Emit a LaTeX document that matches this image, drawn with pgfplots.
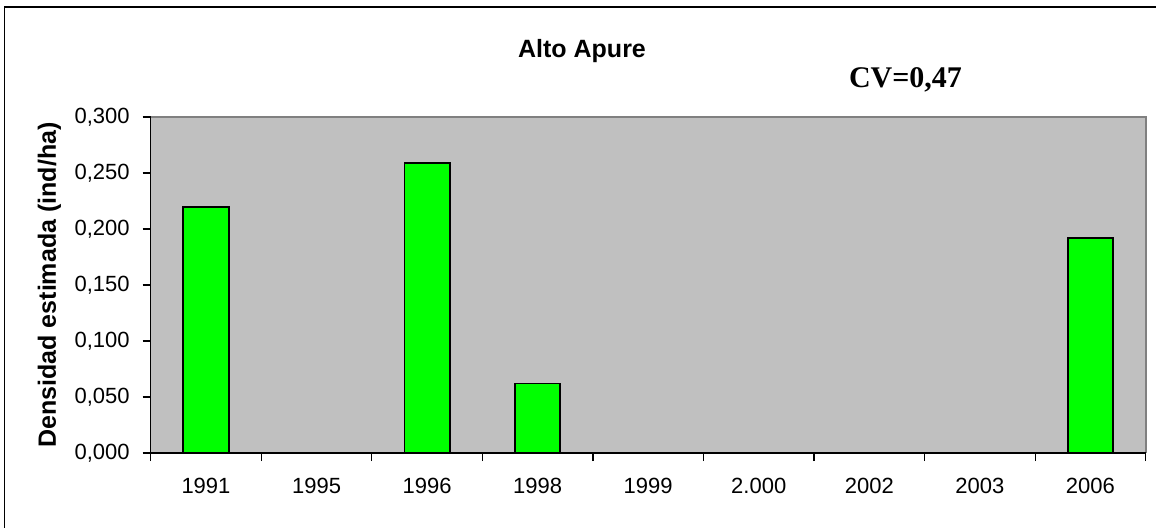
\documentclass[border=0pt]{standalone}
\usepackage{fontspec}
\setmainfont{Liberation Sans}
\newfontfamily\timesfont{Liberation Serif}
\usepackage{pgfplots}
\pgfplotsset{compat=1.18}

\definecolor{plotgray}{RGB}{192,192,192}
\definecolor{bordergray}{RGB}{128,128,128}
\definecolor{bargreen}{RGB}{0,255,0}

\begin{document}
\begin{tikzpicture}
% page = 1156 x 527 px at 0.5pt per px, origin at top left
\path[use as bounding box] (0,0) rectangle (578pt,-263.5pt);
\draw[line width=0.75pt] (2.35pt,-3.5pt) rectangle (600pt,-300pt);

\begin{axis}[
  at={(75.35pt,-226.5pt)}, anchor=south west,
  scale only axis, width=497.5pt, height=168pt,
  xmin=-0.5, xmax=8.5, ymin=0, ymax=0.3,
  clip=false,
  axis background/.style={fill=plotgray},
  axis line style={draw=none},
  tick align=outside, xtick pos=bottom, ytick pos=left,
  xtick={0,...,8},
  xticklabels={1991,1995,1996,1998,1999,2.000,2002,2003,2006},
  major x tick style={draw=none},
  minor xtick={-0.5,0.5,...,8.5},
  minor x tick style={black, line width=0.6pt},
  minor tick length=4pt,
  ytick={0,0.05,...,0.3},
  yticklabels={{0,000},{0,050},{0,100},{0,150},{0,200},{0,250},{0,300}},
  y tick style={black, line width=0.6pt},
  major tick length=4pt,
  /pgf/number format/assume math mode=true,
  tick label style={font=\fontsize{11}{13}\selectfont},
  xticklabel style={yshift=-5pt},
  yticklabel style={xshift=-3pt},
  ylabel={Densidad estimada (ind/ha)},
  every axis y label/.style={at={(axis description cs:-0.0952,0.5)}, rotate=90, anchor=base,
    font=\bfseries\fontsize{12.5}{15}\selectfont},
  title={Alto Apure},
  every axis title/.style={at={(axis description cs:0.4335,1.1786)}, anchor=base,
    font=\bfseries\fontsize{12.5}{15}\selectfont},
]
\addplot[ybar, bar width=0.41, fill=bargreen, draw=black, line width=0.9pt]
  coordinates {(0,0.220) (2,0.259) (3,0.062) (8,0.192)};
\draw[bordergray, line width=1pt] (rel axis cs:0,1) -- (rel axis cs:1,1) -- (rel axis cs:1,0);
\draw[black, line width=0.6pt] (rel axis cs:0,1) -- (rel axis cs:0,0) -- (rel axis cs:1,0);
\node[anchor=base, font=\timesfont\bfseries\fontsize{15}{18}\selectfont]
  at (axis description cs:0.7586,1.0893) {CV=0,47};
\end{axis}
\end{tikzpicture}
\end{document}
